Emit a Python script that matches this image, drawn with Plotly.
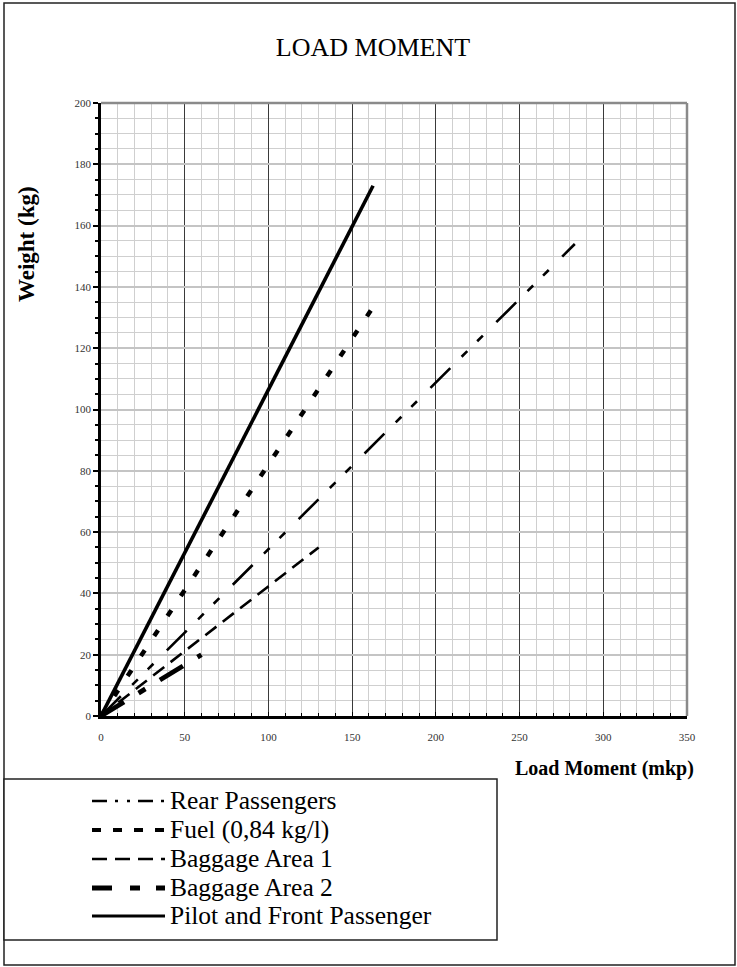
import plotly.graph_objects as go

# ---- data ----
series_names = ["Rear Passengers", "Fuel (0,84 kg/l)", "Baggage Area 1",
                "Baggage Area 2", "Pilot and Front Passenger"]
moment_rear = [0, 283]
weight_rear = [0, 154]
moment_fuel = [0, 162]
weight_fuel = [0, 133]
moment_bag1 = [0, 130]
weight_bag1 = [0, 55]
moment_bag2 = [0, 60]
weight_bag2 = [0, 20]
moment_pilot = [0, 162.5]
weight_pilot = [0, 173]

x_ticks = [0, 50, 100, 150, 200, 250, 300, 350]
y_ticks = [0, 20, 40, 60, 80, 100, 120, 140, 160, 180, 200]

# ---- styles ----
W, H = 737, 967
L, R, T, B = 101, 50, 103, 251
PW, PH = W - L - R, H - T - B
FONT = "Liberation Serif"

chart_styles = [
    dict(width=2.6, dash="28px,16px,8px,14px,8px,19px"),
    dict(width=4.5, dash="7px,17px"),
    dict(width=2.6, dash="14px,8px"),
    dict(width=4.8, dash="27px,17px,8px,17px"),
    dict(width=3.6, dash="solid"),
]
legend_styles = [
    dict(width=2.6, dash="15px,8px,3px,9px,3px,8px"),
    dict(width=4.2, dash="9px,12px"),
    dict(width=2.6, dash="15px,8px"),
    dict(width=4.8, dash="20px,18px,10px,16px,10px,20px"),
    dict(width=3.2, dash="solid"),
]

xs = [moment_rear, moment_fuel, moment_bag1, moment_bag2, moment_pilot]
ys = [weight_rear, weight_fuel, weight_bag1, weight_bag2, weight_pilot]


def px_x(p):
    return (p - L) / PW


def px_y(p):
    return (H - B - p) / PH


fig = go.Figure()
for name, x, y, st in zip(series_names, xs, ys, chart_styles):
    fig.add_trace(go.Scatter(x=x, y=y, mode="lines", name=name,
                             line=dict(color="black", width=st["width"], dash=st["dash"]),
                             showlegend=False, hoverinfo="skip"))

shapes = []
# plot area top / right borders (grey)
shapes.append(dict(type="line", xref="paper", yref="paper", x0=0, x1=1, y0=1, y1=1,
                   line=dict(color="#8a8a8a", width=2.5), layer="above"))
shapes.append(dict(type="line", xref="paper", yref="paper", x0=1, x1=1, y0=0, y1=1,
                   line=dict(color="#8a8a8a", width=2.5), layer="above"))
# outer chart frame
shapes.append(dict(type="rect", xref="paper", yref="paper",
                   x0=px_x(4), x1=px_x(735), y0=px_y(965), y1=px_y(3),
                   line=dict(color="#222222", width=1.5), layer="below"))
# legend box
shapes.append(dict(type="rect", xref="paper", yref="paper",
                   x0=px_x(4), x1=px_x(497), y0=px_y(940), y1=px_y(779),
                   line=dict(color="#222222", width=1.5), fillcolor="white", layer="below"))

annotations = []
row_y = [800, 829, 858, 887, 915]
for name, st, ry in zip(series_names, legend_styles, row_y):
    shapes.append(dict(type="line", xref="paper", yref="paper",
                       x0=px_x(92), x1=px_x(165), y0=px_y(ry + 1), y1=px_y(ry + 1),
                       line=dict(color="black", width=st["width"], dash=st["dash"])))
    annotations.append(dict(text=name, xref="paper", yref="paper", x=px_x(168), y=px_y(ry),
                            xanchor="left", yanchor="middle", showarrow=False,
                            font=dict(family=FONT, size=25.5, color="black")))

annotations.append(dict(text="<b>Weight (kg)</b>", xref="paper", yref="paper",
                        x=px_x(26), y=px_y(244), textangle=-90, showarrow=False,
                        xanchor="center", yanchor="middle",
                        font=dict(family=FONT, size=23, color="black")))
annotations.append(dict(text="<b>Load Moment (mkp)</b>", xref="paper", yref="paper",
                        x=px_x(604), y=px_y(768), showarrow=False,
                        xanchor="center", yanchor="middle",
                        font=dict(family=FONT, size=20, color="black")))

fig.update_layout(
    width=W, height=H,
    margin=dict(l=L, r=R, t=T, b=B),
    paper_bgcolor="white", plot_bgcolor="white",
    title=dict(text="LOAD MOMENT", x=373 / W, y=1 - 47 / H, xref="container", yref="container",
               xanchor="center", yanchor="middle",
               font=dict(family=FONT, size=26, color="black")),
    shapes=shapes, annotations=annotations,
    showlegend=False,
)
fig.update_xaxes(
    range=[0, 350], tickvals=x_ticks, ticktext=[str(v) for v in x_ticks],
    showgrid=True, gridcolor="#3a3a3a", gridwidth=1,
    showline=True, linecolor="black", linewidth=2.5,
    ticks="inside", ticklen=4, tickcolor="black",
    ticklabelstandoff=9,
    tickfont=dict(family=FONT, size=11, color="#333333"),
    minor=dict(dtick=10, showgrid=True, gridcolor="#cfcfcf", gridwidth=1.2,
               ticks="inside", ticklen=3, tickcolor="black"),
    zeroline=False, fixedrange=True,
)
fig.update_yaxes(
    range=[0, 200], tickvals=y_ticks, ticktext=[str(v) for v in y_ticks],
    showgrid=True, gridcolor="#c4c4c4", gridwidth=1.5,
    showline=True, linecolor="black", linewidth=2.5,
    ticks="outside", ticklen=5, tickwidth=1.5, tickcolor="black",
    tickfont=dict(family=FONT, size=11, color="#333333"),
    minor=dict(dtick=5, showgrid=True, gridcolor="#cfcfcf", gridwidth=1.2,
               ticks="outside", ticklen=3, tickcolor="black"),
    zeroline=False, fixedrange=True,
)

fig.write_html("out.html", config={"displayModeBar": False},
               post_script="document.body.style.margin='0';document.body.style.overflow='hidden';")
